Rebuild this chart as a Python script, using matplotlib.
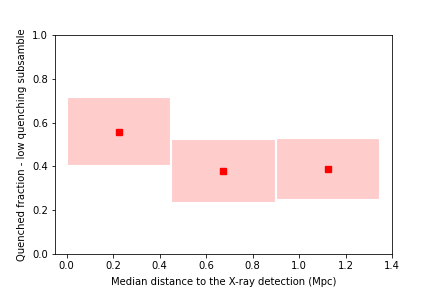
import matplotlib
matplotlib.use("Agg")
import matplotlib.pyplot as plt
from matplotlib.patches import Rectangle

# distance bins (Mpc) and quenched fraction with uncertainty band
bin_lo = [0.0, 0.45, 0.9]
bin_hi = [0.45, 0.9, 1.35]
frac_lo = [0.402, 0.235, 0.249]
frac_hi = [0.716, 0.525, 0.530]
med_dist = [0.224, 0.675, 1.125]
frac = [0.558, 0.379, 0.388]

s = 0.72
plt.rcParams['font.size'] = 10 * s
plt.rcParams['axes.linewidth'] = 0.8 * s
plt.rcParams['xtick.major.width'] = 0.8 * s
plt.rcParams['ytick.major.width'] = 0.8 * s
plt.rcParams['xtick.major.size'] = 3.5 * s
plt.rcParams['ytick.major.size'] = 3.5 * s
plt.rcParams['xtick.major.pad'] = 3.5 * s
plt.rcParams['ytick.major.pad'] = 3.5 * s

fig = plt.figure(figsize=(4.36, 2.91), dpi=100)
ax = fig.add_axes([0.1261, 0.126, 0.773, 0.755])

for lo, hi, flo, fhi in zip(bin_lo, bin_hi, frac_lo, frac_hi):
    ax.add_patch(Rectangle((lo, flo), hi - lo, fhi - flo,
                           facecolor='red', alpha=0.2, edgecolor='none'))
    ax.add_patch(Rectangle((lo, flo), hi - lo, fhi - flo,
                           facecolor='none', edgecolor='white', linewidth=1.5))

ax.plot(med_dist, frac, 's', color='red', markersize=5, linestyle='none')

ax.set_xlim(-0.05, 1.4)
ax.set_ylim(0, 1)
ax.set_xlabel("Median distance to the X-ray detection (Mpc)")
ax.set_ylabel("Quenched fraction - low quenching subsamble")

fig.savefig("out.png", dpi=100)
